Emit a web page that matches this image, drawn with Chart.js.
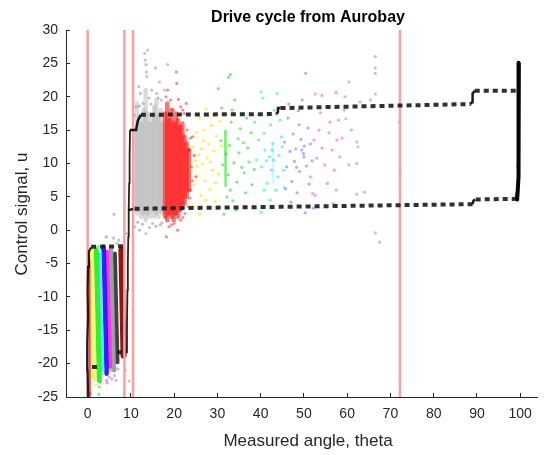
<!DOCTYPE html>
<html>
<head>
<meta charset="utf-8">
<script src="https://cdn.jsdelivr.net/npm/chart.js@4.4.1/dist/chart.umd.min.js"></script>
<style>
  html, body { margin: 0; padding: 0; background: #fff; }
</style>
</head>
<body>
<canvas id="chart" width="545" height="455"></canvas>
<script>
const chartTitle = "Drive cycle from Aurobay";
const xLabel = "Measured angle, theta";
const yLabel = "Control signal, u";

const xTickValues = [0, 10, 20, 30, 40, 50, 60, 70, 80, 90, 100];
const yTickValues = [-25, -20, -15, -10, -5, 0, 5, 10, 15, 20, 25, 30];

// vertical reference lines
const refLineX = [0, 8.5, 10.5, 72.2];

// black control path, solid parts
const pathLeftEdge = [[0.1, -25], [0, -21], [-0.1, -17], [0.1, -13], [0, -9], [0.1, -5.5], [0.3, -3.2], [0.8, -2.6]];
const pathMidEdge = [[9.0, -18.3], [9.1, -14], [9.2, -9], [9.3, -5], [9.4, -1], [9.5, 3], [9.6, 7], [9.7, 11], [9.8, 15]];
const pathRightEdge = [[99.7, 25.1], [99.6, 23], [99.7, 20], [99.6, 17], [99.7, 14], [99.5, 11], [99.6, 8], [99.4, 5.5], [99.3, 4.6]];
const pathSteps = [
  [[9.8, 15], [11.2, 15], [11.6, 16.4], [12.3, 17.3]],
  [[43.6, 17.4], [44, 17.7], [44, 18.3], [44.6, 18.3]],
  [[88.6, 18.9], [88.9, 19.2], [89, 20.5], [89.5, 20.9]],
  [[89.6, 4.6], [89.2, 4.4], [89, 3.9]],
  [[10.5, 3.2], [9.5, 3.0]]
];
// black control path, sparse (dashed looking) parts
const pathDashed = [
  [[0.8, -2.5], [8.4, -2.4]],
  [[1.0, -20.5], [3.0, -20.5]],
  [[6.8, -18.3], [9.0, -18.3]],
  [[12.3, 17.3], [43.6, 17.4]],
  [[44.6, 18.3], [88.6, 18.9]],
  [[89.5, 20.9], [99.3, 20.9]],
  [[99.2, 4.7], [89.6, 4.6]],
  [[89, 3.9], [10.5, 3.2]]
];

// dense low-angle bands (one per colour)
const lowBandTopX = [0.3, 0.8, 2.0, 2.8, 3.7, 4.5, 5.4, 6.3, 7.8];
const lowBandBottomX = [0.4, 1.5, 2.7, 3.5, 4.4, 5.2, 6.1, 6.9, 8.3];
const lowBandTopY = [-4.5, -3.2, -3.0, -3.5, -2.5, -3.2, -2.8, -3.5, -3.0];
const lowBandBottomY = [-25, -22, -22.5, -21, -21.5, -20.5, -21, -19.8, -18.8];

// dense clouds at moderate angle, as vertical strips: x, top, bottom
const grayStripX = [10.9, 11.4, 11.9, 12.4, 12.9, 13.4, 13.9, 14.4, 14.9, 15.4, 15.9, 16.4, 16.9, 17.4];
const grayStripTop = [15, 19, 17, 16, 18, 21, 17.5, 16, 17, 18.5, 19.5, 17, 18, 16];
const grayStripBottom = [3, 2.5, 3, 2, 2.5, 1.5, 2.5, 2, 3, 2, 2.5, 2, 3, 2.5];
const redStripX = [17.9, 18.4, 18.9, 19.4, 19.9, 20.4, 20.9, 21.4, 21.9, 22.4, 22.9, 23.4];
const redStripTop = [17.5, 19, 16.5, 18, 16, 17.5, 16.5, 15.5, 16, 14, 13, 12];
const redStripBottom = [2, 1.5, 2.5, 2, 1.5, 2.5, 2, 3, 3.5, 4, 5, 6];

// thin dense cores at larger angle (green, cyan)
const upperCoreX = [31.8, 42.8];
const upperCoreTop = [15, 13];
const upperCoreBottom = [6.5, 7];

// sparse points
const grayPts = [[66.5, 26.0], [66.5, 24.3], [66.5, 23.5], [66.5, 20.4], [60.4, 22.2], [59.5, 20.0], [63.0, 19.2], [65.4, 19.5], [59.7, 16.7], [62.2, 13.2], [62.5, 12.5], [62.2, 10.0], [60.4, 9.8], [62.2, 5.4], [64.0, 5.7], [66.5, -0.4], [67.5, -1.8], [72.0, 16.2], [72.2, 8.5], [99.3, 9.6], [57.5, 6.0], [58.3, 11.0], [61.0, 15.0],
  [6.1, 2.4], [6.0, -1.2], [6.8, -2.0], [7.2, -1.5], [6.2, -21.8], [6.6, -22.5], [7.0, -20.8], [8.7, -21.0], [9.6, -22.6],
  [13.9, 27.0], [13.2, 26.5], [13.3, 25.5], [13.5, 24.8], [13.6, 23.7], [13.7, 23.0], [15.7, 24.3], [16.6, 22.2], [17.8, 21.0], [11.8, 21.5], [12.2, 20.5], [14.8, 21.0], [16.0, 20.5], [11.2, 18.5], [17.0, 19.5], [10.9, 0.5], [12.0, 0.0], [13.5, -0.5], [15.0, 1.0], [16.8, 0.8], [14.2, 19.8], [12.8, 19.0], [18.5, 24.8], [9.0, -0.5],
  [11.6, 1.2], [12.7, 0.9], [14.3, 0.4], [15.8, 0.6], [17.2, 1.1], [10.8, 17.2], [12.0, 18.6], [14.6, 18.9], [16.3, 19.8]];
const redPts = [[20.5, 23.7], [20.6, 22.0], [18.5, 21.0], [19.2, 19.5], [21.5, 18.5], [22.3, 17.5], [19.8, 18.0], [23.0, 15.0], [23.5, 12.0], [24.0, 9.5], [23.8, 6.0], [18.8, 0.5], [20.0, 1.0], [21.5, 1.5], [22.5, 2.5], [18.2, -1.0], [20.8, 0.0], [23.2, 3.5], [24.3, 14.0], [24.6, 11.2], [22.8, 19.0], [25.0, 8.0], [0.5, -24.5],
  [18.1, 20.0], [21.0, 19.6], [22.0, 18.0], [23.8, 13.8], [24.2, 7.4], [19.4, 0.8], [22.0, 1.9], [23.6, 4.8]];
const yellowPts = [[24.0, 9.2], [24.3, 12.5], [24.6, 6.8], [24.9, 10.4], [25.1, 14.6], [25.4, 8.1], [25.7, 11.3], [26.0, 16.8], [26.2, 5.2], [26.5, 9.9], [26.8, 13.4], [27.1, 7.4], [27.4, 18.2], [27.7, 10.8], [28.0, 12.9], [28.3, 6.1], [28.6, 15.7], [28.9, 9.0], [29.2, 11.9], [29.5, 4.3], [29.8, 14.1], [30.2, 8.4], [30.6, 16.3], [24.4, 3.6], [25.9, 2.4], [27.9, 17.1], [26.3, 12.2], [24.7, 11.1], [25.3, 9.6], [28.4, 10.2], [29.6, 7.1], [30.9, 12.6], [27.2, 4.5], [26.9, 15.0],
  [1.6, -22.5], [1.8, -23.2], [1.2, -21.8], [2.0, -3.6]];
const greenPts = [[30.2, 21.2], [31.0, 18.3], [32.6, 22.9], [33.0, 23.3], [33.4, 18.0], [34.0, 19.5], [33.2, 16.2], [35.3, 15.2], [36.0, 13.1], [35.0, 11.6], [37.0, 12.3], [37.8, 14.6], [38.5, 9.1], [34.5, 7.2], [33.0, 6.0], [36.5, 5.6], [34.3, 3.0], [33.8, 10.1], [36.2, 8.6], [38.0, 6.8], [32.5, 8.3], [32.8, 12.7], [31.2, 9.8], [30.8, 13.4], [32.2, 5.0], [34.8, 13.7], [36.8, 16.8], [31.5, 2.4], [33.6, 4.4], [37.3, 10.2], [35.6, 9.4], [32.0, 11.4],
  [2.6, -24.6], [2.7, -23.5], [2.4, -2.5], [2.9, -22.8]];
const cyanPts = [[40.1, 20.7], [40.5, 19.8], [40.8, 14.5], [42.3, 15.8], [41.0, 12.0], [42.0, 11.0], [42.5, 9.0], [43.0, 10.5], [42.8, 13.0], [41.5, 7.0], [44.0, 8.0], [43.5, 6.0], [45.0, 12.5], [44.5, 16.5], [39.5, 13.5], [40.2, 9.5], [41.8, 17.5], [43.2, 18.0], [42.2, 4.5], [44.8, 14.0], [39.0, 10.5], [45.3, 9.0], [40.1, 2.7], [43.8, 20.5], [42.6, 12.0], [41.3, 10.4], [45.5, 6.4], [38.6, 16.2], [44.2, 11.2], [40.8, 6.0],
  [3.3, -3.0], [3.5, -21.5]];
const bluePts = [[45.5, 13.2], [46.0, 9.5], [46.3, 16.8], [46.8, 11.8], [47.2, 7.3], [47.5, 14.4], [47.8, 10.3], [48.1, 12.2], [48.4, 5.6], [48.7, 17.9], [49.0, 8.8], [49.3, 13.6], [49.6, 19.5], [49.9, 11.5], [50.1, 12.6], [50.4, 23.5], [50.6, 9.6], [50.9, 15.3], [51.2, 6.9], [51.5, 12.9], [51.9, 10.4], [52.2, 3.3], [50.3, 2.6], [47.0, 4.2], [48.9, 15.8], [45.8, 6.2], [46.5, 18.9], [50.0, 11.0], [49.5, 12.0], [48.3, 9.4],
  [4.3, -1.0], [4.4, -22.5], [4.5, -22.9]];
const magentaPts = [[52.6, 20.4], [54.2, 20.2], [56.0, 16.2], [58.0, 16.5], [58.8, 13.8], [57.6, 13.5], [56.5, 12.0], [54.2, 12.3], [52.0, 5.5], [52.6, 5.2], [55.4, 7.0], [53.5, 15.0], [54.8, 9.8], [57.0, 9.0], [53.0, 10.8], [55.8, 14.6], [51.5, 8.0], [59.3, 18.0], [56.8, 4.0], [53.8, 17.6], [57.4, 20.6], [52.3, 13.5],
  [5.0, -22.0], [5.3, -21.0], [5.6, -22.3]];

const toPts = arr => arr.map(([x, y]) => ({ x, y }));

const lineSet = (pts, color, width, order, extra = {}) => ({
  data: toPts(pts),
  borderColor: color,
  backgroundColor: color,
  borderWidth: width,
  pointRadius: 0,
  showLine: true,
  fill: false,
  tension: 0,
  order,
  ...extra
});

const dotSet = (pts, color, order) => ({
  data: toPts(pts),
  showLine: false,
  pointRadius: 1.6,
  pointBackgroundColor: color,
  pointBorderWidth: 0,
  order
});

const stripSets = (xs, tops, bottoms, color, width, order) =>
  xs.map((x, i) => lineSet([[x, tops[i]], [x, bottoms[i]]], color, width, order, { borderCapStyle: "round" }));

const bandColors = [
  "rgba(255,0,0,0.75)", "rgba(240,240,0,0.55)", "rgba(0,235,0,0.8)", "rgba(0,230,230,0.7)",
  "rgba(0,0,255,0.85)", "rgba(255,0,255,0.8)", "rgba(128,128,128,0.75)", "rgba(0,0,0,0.75)", "rgba(128,0,0,0.9)"
];
const bandWidths = [3, 5, 5, 3, 4.5, 4, 4.5, 4, 6];

const datasets = [];

datasets.push(...stripSets(grayStripX, grayStripTop, grayStripBottom, "rgba(165,165,165,0.4)", 4.5, 20));
datasets.push(...stripSets(redStripX, redStripTop, redStripBottom, "rgba(255,0,0,0.55)", 4.5, 18));

datasets.push(dotSet(grayPts, "rgba(140,140,140,0.5)", 15));
datasets.push(dotSet(redPts, "rgba(255,0,0,0.45)", 15));
datasets.push(dotSet(yellowPts, "rgba(235,235,0,0.6)", 15));
datasets.push(dotSet(greenPts, "rgba(0,225,0,0.5)", 15));
datasets.push(dotSet(cyanPts, "rgba(0,225,225,0.5)", 15));
datasets.push(dotSet(bluePts, "rgba(60,60,255,0.4)", 15));
datasets.push(dotSet(magentaPts, "rgba(255,0,255,0.4)", 15));

upperCoreX.forEach((x, i) => {
  const color = i === 0 ? "rgba(0,225,0,0.5)" : "rgba(0,225,225,0.2)";
  datasets.push(lineSet([[x, upperCoreTop[i]], [x + 0.1, upperCoreBottom[i]]], color, 2.5, 14));
});

lowBandTopX.forEach((x, i) => {
  datasets.push(lineSet([[x, lowBandTopY[i]], [lowBandBottomX[i], lowBandBottomY[i]]],
    bandColors[i], bandWidths[i], 12, { borderCapStyle: "round" }));
});

refLineX.forEach(x => {
  datasets.push(lineSet([[x, -25], [x, 30]], "#ff9e9e", 2.5, 8));
});

pathDashed.forEach(seg => {
  datasets.push(lineSet(seg, "rgba(25,25,25,0.9)", 4, 4, { borderDash: [5, 4] }));
});
pathSteps.forEach(seg => {
  datasets.push(lineSet(seg, "rgba(15,15,15,0.95)", 2.5, 3));
});
datasets.push(lineSet(pathLeftEdge, "rgba(10,10,10,0.9)", 2.2, 3));
datasets.push(lineSet(pathMidEdge, "rgba(10,10,10,0.9)", 1.8, 3));
datasets.push(lineSet(pathRightEdge, "rgba(5,5,5,1)", 4, 3, { borderJoinStyle: "round" }));

const fontFamily = '"Liberation Sans", Arial, Helvetica, sans-serif';

const textPlugin = {
  id: "matlabText",
  afterDraw(chart) {
    const ctx = chart.ctx;
    ctx.save();
    ctx.textAlign = "center";
    ctx.textBaseline = "middle";
    ctx.fillStyle = "#000";
    ctx.font = "bold 16px " + fontFamily;
    ctx.fillText(chartTitle, 308, 18);
    ctx.fillStyle = "#262626";
    ctx.font = "17px " + fontFamily;
    ctx.fillText(xLabel, 308, 441);
    ctx.translate(22, 214);
    ctx.rotate(-Math.PI / 2);
    ctx.fillText(yLabel, 0, 0);
    ctx.restore();
  }
};

const axisStyle = {
  grid: { drawOnChartArea: false, drawTicks: true, tickLength: -4, color: "#262626", lineWidth: 1 },
  border: { display: true, color: "#262626", width: 1 }
};

new Chart(document.getElementById("chart"), {
  type: "line",
  data: { datasets },
  options: {
    responsive: false,
    animation: false,
    events: [],
    layout: { padding: { top: 30, right: 0.5, left: 0, bottom: 0 } },
    plugins: { legend: { display: false }, tooltip: { enabled: false }, title: { display: false } },
    scales: {
      x: {
        type: "linear",
        min: -5,
        max: 104,
        afterBuildTicks: s => { s.ticks = xTickValues.map(v => ({ value: v })); },
        afterFit: s => { s.height = 58; },
        ...axisStyle,
        ticks: { padding: 13, color: "#262626", font: { family: fontFamily, size: 14 }, maxRotation: 0, autoSkip: false }
      },
      y: {
        type: "linear",
        min: -25,
        max: 30,
        afterBuildTicks: s => { s.ticks = yTickValues.map(v => ({ value: v })); },
        afterFit: s => { s.width = 66; },
        ...axisStyle,
        ticks: { padding: 12, color: "#262626", font: { family: fontFamily, size: 14 }, autoSkip: false }
      }
    }
  },
  plugins: [textPlugin]
});
</script>
</body>
</html>
